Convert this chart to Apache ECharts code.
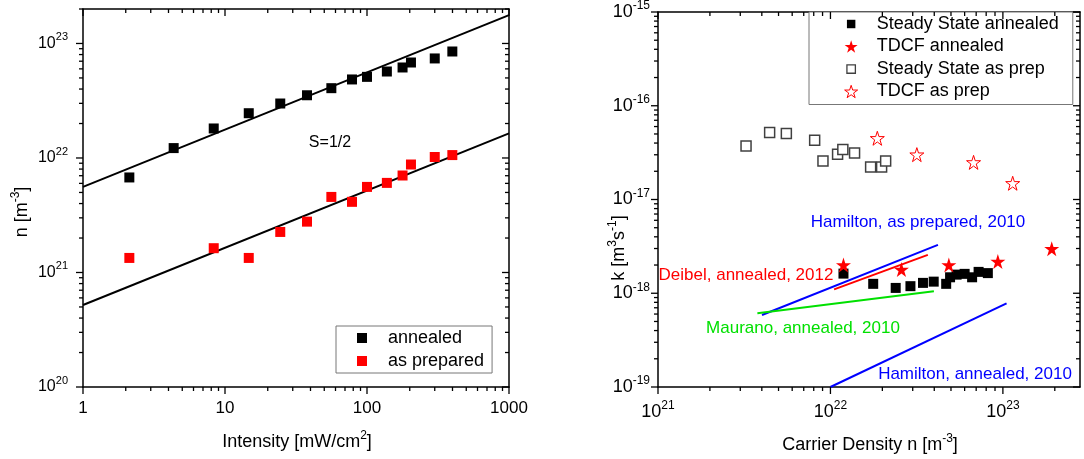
<!DOCTYPE html>
<html>
<head>
<meta charset="utf-8">
<script src="https://cdn.jsdelivr.net/npm/echarts@6/dist/echarts.min.js"></script>
<style>
  html, body { margin: 0; padding: 0; background: #fff; }
  #chart { width: 1084px; height: 459px; }
</style>
</head>
<body>
<div id="chart"></div>
<script>
// ---------- Left panel: carrier density n vs. light intensity ----------
const intensityAnnealed = [2.12, 4.35, 8.33, 14.7, 24.5, 37.8, 56.1, 78.4, 100, 138, 178, 204, 300, 399];
const nAnnealed = [6.76e21, 1.22e22, 1.81e22, 2.46e22, 2.99e22, 3.53e22, 4.07e22, 4.85e22, 5.11e22, 5.69e22, 6.17e22, 6.82e22, 7.40e22, 8.51e22];
const intensityPrepared = [2.12, 8.33, 14.7, 24.5, 37.8, 56.1, 78.4, 100, 138, 178, 204, 300, 399];
const nPrepared = [1.34e21, 1.63e21, 1.34e21, 2.26e21, 2.78e21, 4.57e21, 4.14e21, 5.59e21, 6.06e21, 7.03e21, 8.77e21, 1.02e22, 1.06e22];
// power-law fits with slope 1/2, end points at 1 and 1000 mW/cm2
const fitIntensity = [1, 1000];
const fitAnnealed = [5.6e21, 1.77e23];
const fitPrepared = [5.2e20, 1.64e22];

// ---------- Right panel: recombination coefficient k vs. carrier density ----------
const ssAnnealedN = [1.19e22, 1.77e22, 2.39e22, 2.91e22, 3.44e22, 3.97e22, 4.69e22, 4.94e22, 5.39e22, 6.00e22, 6.63e22, 7.23e22, 8.18e22];
const ssAnnealedK = [1.62e-18, 1.26e-18, 1.14e-18, 1.19e-18, 1.29e-18, 1.33e-18, 1.26e-18, 1.48e-18, 1.58e-18, 1.61e-18, 1.48e-18, 1.69e-18, 1.64e-18];
const tdcfAnnealedN = [1.19e22, 2.58e22, 4.86e22, 9.35e22, 1.92e23];
const tdcfAnnealedK = [2.0e-18, 1.79e-18, 2.0e-18, 2.18e-18, 2.98e-18];
const ssPrepN = [3.24e21, 4.44e21, 5.55e21, 8.10e21, 9.05e21, 1.10e22, 1.18e22, 1.38e22, 1.71e22, 1.98e22, 2.09e22];
const ssPrepK = [3.71e-17, 5.17e-17, 5.05e-17, 4.29e-17, 2.57e-17, 3.03e-17, 3.42e-17, 3.13e-17, 2.22e-17, 2.22e-17, 2.57e-17];
const tdcfPrepN = [1.87e22, 3.17e22, 6.76e22, 1.14e23];
const tdcfPrepK = [4.50e-17, 3.01e-17, 2.49e-17, 1.49e-17];
// literature trends (start / end points)
const hamiltonPrepN = [4.01e21, 4.20e22];
const hamiltonPrepK = [5.86e-19, 3.28e-18];
const hamiltonAnnN = [1.0e22, 1.05e23];
const hamiltonAnnK = [1.0e-19, 7.8e-19];
const deibelN = [1.05e22, 3.67e22];
const deibelK = [1.10e-18, 2.57e-18];
const mauranoN = [3.77e21, 3.98e22];
const mauranoK = [6.12e-19, 1.05e-18];

// ---------- axis ranges and tick values ----------
const leftXRange = [1, 1000];
const leftYRange = [1e20, 2e23];
const rightXRange = [1e21, 2.8e23];
const rightYRange = [1e-19, 1e-15];
const minorSteps = [2, 3, 4, 5, 6, 7, 8, 9];

const FONT = '"Liberation Sans", Arial, Helvetica, sans-serif';
const RED = '#ff0000';
const BLUE = '#0000ff';
const GREEN = '#00e000';

const zip = (xs, ys) => xs.map((x, i) => [x, ys[i]]);
const isPow10 = v => Math.abs(Math.log10(v) - Math.round(Math.log10(v))) < 1e-6;
const expOf = v => Math.round(Math.log10(v));

// tick marks for a log axis pair: 1..9 per decade, majors at powers of ten
function logTickValues(range) {
  const out = [];
  const e0 = Math.floor(Math.log10(range[0]) + 1e-9);
  const e1 = Math.ceil(Math.log10(range[1]) - 1e-9);
  for (let e = e0; e <= e1; e++) {
    const base = Math.pow(10, e);
    [1].concat(minorSteps).forEach(m => {
      const v = m * base;
      if (v >= range[0] * (1 - 1e-9) && v <= range[1] * (1 + 1e-9)) out.push([v, m === 1]);
    });
  }
  return out;
}
function frameTicks(xr, yr, majorLen, minorLen) {
  const items = [];
  logTickValues(xr).forEach(([v, major]) => {
    const len = major ? majorLen : minorLen;
    items.push([v, yr[0], 0, len]);
    items.push([v, yr[1], 1, len]);
  });
  logTickValues(yr).forEach(([v, major]) => {
    const len = major ? majorLen : minorLen;
    items.push([xr[0], v, 2, len]);
    items.push([xr[1], v, 3, len]);
  });
  return items;
}
// bottom/left ticks point outwards, top/right ticks point into the plot
function renderTick(params, api) {
  const p = api.coord([api.value(0), api.value(1)]);
  const side = api.value(2), len = api.value(3);
  let x2 = p[0], y2 = p[1];
  if (side === 0 || side === 1) y2 = p[1] + len; else x2 = p[0] - len;
  return { type: 'line', shape: { x1: p[0], y1: p[1], x2: x2, y2: y2 },
           style: { stroke: '#000', lineWidth: 1.3 } };
}

const starPath = 'path://M0,-10L2.245,-3.09L9.511,-3.09L3.633,1.18L5.878,8.09L0,3.82L-5.878,8.09L-3.633,1.18L-9.511,-3.09L-2.245,-3.09Z';
// legend square drawn a little smaller than the star inside the same icon box
const smallSquarePath = 'path://M-10,-10M10,10M-6.5,-6.5L6.5,-6.5L6.5,6.5L-6.5,6.5Z';

const axisLine = { show: true, onZero: false, lineStyle: { color: '#000', width: 1.5 } };
const supRich = (base, sup) => ({
  b: { fontSize: base, lineHeight: 24, fontFamily: FONT, color: '#000' },
  s: { fontSize: sup, lineHeight: 12, verticalAlign: 'top', fontFamily: FONT, color: '#000' }
});

function logAxis(gridIndex, range, position, labelOpts) {
  const ax = {
    type: 'log', logBase: 10, gridIndex: gridIndex, position: position,
    min: range[0], max: range[1],
    axisLine: axisLine, axisTick: { show: false }, minorTick: { show: false },
    splitLine: { show: false }, minorSplitLine: { show: false },
    axisLabel: { show: false }
  };
  if (labelOpts) ax.axisLabel = Object.assign({ show: true, interval: 0, hideOverlap: false }, labelOpts);
  return ax;
}

const legendText = { fontSize: 18, lineHeight: 18, fontFamily: FONT, color: '#000', padding: [0, 0, 0, 16] };

const chart = echarts.init(document.getElementById('chart'), null, { renderer: 'canvas' });

const option = {
  animation: false,
  backgroundColor: '#fff',
  grid: [
    { left: 83, top: 9, width: 426, height: 378 },
    { left: 658, top: 8, width: 422, height: 379 }
  ],
  xAxis: [
    logAxis(0, leftXRange, 'bottom', {
      margin: 9,
      formatter: v => isPow10(v) ? '{b|' + Math.round(v) + '}' : '',
      rich: supRich(17, 11)
    }),
    logAxis(0, leftXRange, 'top'),
    logAxis(1, rightXRange, 'bottom', {
      margin: 13,
      formatter: v => isPow10(v) ? '{b|10}{s|' + expOf(v) + '}' : '',
      rich: supRich(18, 12)
    }),
    logAxis(1, rightXRange, 'top')
  ],
  yAxis: [
    logAxis(0, leftYRange, 'left', {
      margin: 15,
      formatter: v => isPow10(v) ? '{b|10}{s|' + expOf(v) + '}' : '',
      rich: supRich(16, 11)
    }),
    logAxis(0, leftYRange, 'right'),
    logAxis(1, rightYRange, 'left', {
      margin: 8,
      formatter: v => isPow10(v) ? '{b|10}{s|' + expOf(v) + '}' : '',
      rich: supRich(18, 12)
    }),
    logAxis(1, rightYRange, 'right')
  ],
  legend: [
    {
      left: 336, top: 326, orient: 'vertical',
      data: ['annealed', 'as prepared'],
      itemWidth: 10, itemHeight: 10, itemGap: 5,
      padding: [3, 8, 3, 21],
      borderColor: '#777', borderWidth: 1, backgroundColor: '#fff',
      textStyle: legendText
    },
    {
      left: 809, top: 12, orient: 'vertical',
      data: [
        { name: 'Steady State annealed', icon: smallSquarePath, itemStyle: { color: '#000', borderWidth: 0 } },
        { name: 'TDCF annealed', icon: starPath, itemStyle: { color: RED, borderWidth: 0 } },
        { name: 'Steady State as prep', icon: smallSquarePath,
          itemStyle: { color: '#fff', borderColor: '#404040', borderWidth: 1.3 } },
        { name: 'TDCF as prep', icon: starPath, itemStyle: { color: '#fff', borderColor: RED, borderWidth: 1 } }
      ],
      itemWidth: 13, itemHeight: 13, itemGap: 4.5,
      padding: [3, 14, 4, 35],
      borderColor: '#777', borderWidth: 1, backgroundColor: '#fff',
      textStyle: Object.assign({}, legendText, { padding: [0, 0, 0, 14] })
    }
  ],
  series: [
    // left panel
    { name: 'fit annealed', type: 'line', xAxisIndex: 0, yAxisIndex: 0, data: zip(fitIntensity, fitAnnealed),
      symbol: 'none', lineStyle: { color: '#000', width: 2 }, z: 2 },
    { name: 'fit as prepared', type: 'line', xAxisIndex: 0, yAxisIndex: 0, data: zip(fitIntensity, fitPrepared),
      symbol: 'none', lineStyle: { color: '#000', width: 2 }, z: 2 },
    { name: 'annealed', type: 'scatter', xAxisIndex: 0, yAxisIndex: 0, data: zip(intensityAnnealed, nAnnealed),
      symbol: 'rect', symbolSize: 10, itemStyle: { color: '#000', opacity: 1 }, z: 3 },
    { name: 'as prepared', type: 'scatter', xAxisIndex: 0, yAxisIndex: 0, data: zip(intensityPrepared, nPrepared),
      symbol: 'rect', symbolSize: 10, itemStyle: { color: RED, opacity: 1 }, z: 3 },
    { name: 'ticks left', type: 'custom', xAxisIndex: 0, yAxisIndex: 0, coordinateSystem: 'cartesian2d',
      data: frameTicks(leftXRange, leftYRange, 7, 4), renderItem: renderTick, clip: false, silent: true, z: 10,
      encode: { x: 0, y: 1 } },

    // right panel
    { name: 'Hamilton, as prepared', type: 'line', xAxisIndex: 2, yAxisIndex: 2, data: zip(hamiltonPrepN, hamiltonPrepK),
      symbol: 'none', lineStyle: { color: BLUE, width: 2 }, z: 2 },
    { name: 'Hamilton, annealed', type: 'line', xAxisIndex: 2, yAxisIndex: 2, data: zip(hamiltonAnnN, hamiltonAnnK),
      symbol: 'none', lineStyle: { color: BLUE, width: 2 }, z: 2 },
    { name: 'Deibel, annealed', type: 'line', xAxisIndex: 2, yAxisIndex: 2, data: zip(deibelN, deibelK),
      symbol: 'none', lineStyle: { color: RED, width: 2 }, z: 2 },
    { name: 'Maurano, annealed', type: 'line', xAxisIndex: 2, yAxisIndex: 2, data: zip(mauranoN, mauranoK),
      symbol: 'none', lineStyle: { color: GREEN, width: 2 }, z: 2 },
    { name: 'Steady State annealed', type: 'scatter', xAxisIndex: 2, yAxisIndex: 2, data: zip(ssAnnealedN, ssAnnealedK),
      symbol: 'rect', symbolSize: 10, itemStyle: { color: '#000', opacity: 1 }, z: 3 },
    { name: 'TDCF annealed', type: 'scatter', xAxisIndex: 2, yAxisIndex: 2, data: zip(tdcfAnnealedN, tdcfAnnealedK),
      symbol: starPath, symbolSize: 15, itemStyle: { color: RED, opacity: 1 }, z: 4 },
    { name: 'Steady State as prep', type: 'scatter', xAxisIndex: 2, yAxisIndex: 2, data: zip(ssPrepN, ssPrepK),
      symbol: 'rect', symbolSize: 10, itemStyle: { color: '#fff', borderColor: '#404040', borderWidth: 1.5, opacity: 1 }, z: 3 },
    { name: 'TDCF as prep', type: 'scatter', xAxisIndex: 2, yAxisIndex: 2, data: zip(tdcfPrepN, tdcfPrepK),
      symbol: starPath, symbolSize: 14, itemStyle: { color: '#fff', borderColor: RED, borderWidth: 1, opacity: 1 }, z: 3 },
    { name: 'ticks right', type: 'custom', xAxisIndex: 2, yAxisIndex: 2, coordinateSystem: 'cartesian2d',
      data: frameTicks(rightXRange, rightYRange, 7, 4), renderItem: renderTick, clip: false, silent: true, z: 10,
      encode: { x: 0, y: 1 } }
  ],
  graphic: [
    // axis titles
    { type: 'text', x: 297, y: 442, style: {
        text: '{b|Intensity [mW/cm}{s|2}{b|]}', align: 'center', verticalAlign: 'middle',
        rich: { b: { fontSize: 18, lineHeight: 24, fontFamily: FONT, fill: '#000' },
                s: { fontSize: 12, lineHeight: 12, verticalAlign: 'top', fontFamily: FONT, fill: '#000' } } } },
    { type: 'text', x: 22, y: 212, rotation: Math.PI / 2, style: {
        text: '{b|n [m}{s|-3}{b|]}', align: 'center', verticalAlign: 'middle',
        rich: { b: { fontSize: 18, lineHeight: 24, fontFamily: FONT, fill: '#000' },
                s: { fontSize: 12, lineHeight: 12, verticalAlign: 'top', fontFamily: FONT, fill: '#000' } } } },
    { type: 'text', x: 870, y: 445, style: {
        text: '{b|Carrier Density n [m}{s|-3}{b|]}', align: 'center', verticalAlign: 'middle',
        rich: { b: { fontSize: 18, lineHeight: 24, fontFamily: FONT, fill: '#000' },
                s: { fontSize: 12, lineHeight: 12, verticalAlign: 'top', fontFamily: FONT, fill: '#000' } } } },
    { type: 'text', x: 619, y: 248, rotation: Math.PI / 2, style: {
        text: '{b|k [m}{s|3}{b|s}{s|-1}{b|]}', align: 'center', verticalAlign: 'middle',
        rich: { b: { fontSize: 18, lineHeight: 24, fontFamily: FONT, fill: '#000' },
                s: { fontSize: 12, lineHeight: 12, verticalAlign: 'top', fontFamily: FONT, fill: '#000' } } } },
    // annotations
    { type: 'text', x: 330, y: 143, style: { text: 'S=1/2', fontSize: 16, fontFamily: FONT, fill: '#000',
        align: 'center', verticalAlign: 'middle' } },
    { type: 'text', x: 918, y: 222, style: { text: 'Hamilton, as prepared, 2010', fontSize: 17, fontFamily: FONT,
        fill: BLUE, align: 'center', verticalAlign: 'middle' } },
    { type: 'text', x: 746, y: 275, style: { text: 'Deibel, annealed, 2012', fontSize: 17, fontFamily: FONT,
        fill: RED, align: 'center', verticalAlign: 'middle' } },
    { type: 'text', x: 803, y: 328, style: { text: 'Maurano, annealed, 2010', fontSize: 17, fontFamily: FONT,
        fill: GREEN, align: 'center', verticalAlign: 'middle' } },
    { type: 'text', x: 975, y: 374, style: { text: 'Hamilton, annealed, 2010', fontSize: 17, fontFamily: FONT,
        fill: BLUE, align: 'center', verticalAlign: 'middle' } }
  ]
};

chart.setOption(option);
</script>
</body>
</html>
